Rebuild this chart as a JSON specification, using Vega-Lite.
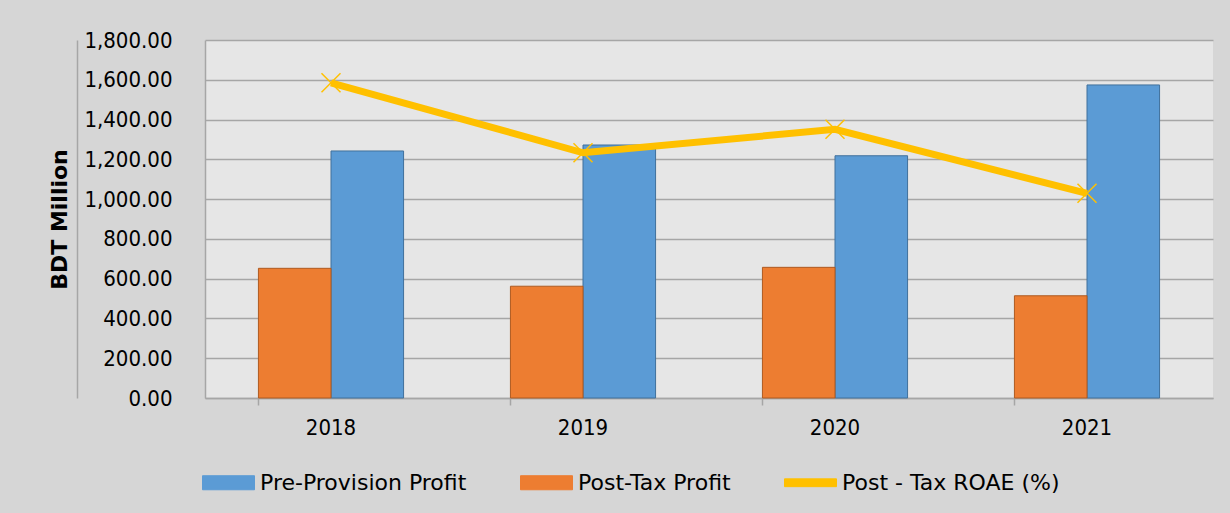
{
  "$schema": "https://vega.github.io/schema/vega-lite/v6.json",
  "width": 1008,
  "height": 358,
  "autosize": {"type": "none"},
  "padding": {"left": 205, "top": 40, "right": 17, "bottom": 115},
  "background": "#d6d6d6",
  "config": {
    "view": {"fill": "#e6e6e6", "stroke": null},
    "font": "DejaVu Sans Condensed"
  },
  "datasets": {
    "bars": [
      {"year": "2018", "series": "Pre-Provision Profit", "value": 1242},
      {"year": "2018", "series": "Post-Tax Profit", "value": 652},
      {"year": "2019", "series": "Pre-Provision Profit", "value": 1272},
      {"year": "2019", "series": "Post-Tax Profit", "value": 562},
      {"year": "2020", "series": "Pre-Provision Profit", "value": 1218},
      {"year": "2020", "series": "Post-Tax Profit", "value": 657},
      {"year": "2021", "series": "Pre-Provision Profit", "value": 1574},
      {"year": "2021", "series": "Post-Tax Profit", "value": 514}
    ],
    "roae": [
      {"year": "2018", "roae": 15.85},
      {"year": "2019", "roae": 12.33},
      {"year": "2020", "roae": 13.51},
      {"year": "2021", "roae": 10.29}
    ]
  },
  "layer": [
    {
      "data": {"name": "bars"},
      "mark": {"type": "bar", "strokeWidth": 1},
      "encoding": {
        "x": {
          "field": "year", "type": "nominal",
          "scale": {"paddingInner": 0.424, "paddingOuter": 0.212},
          "axis": {
            "title": null, "labelAngle": 0, "labelFontSize": 22, "labelColor": "black",
            "labelPadding": 12, "tickSize": 7, "tickColor": "#a6a6a6", "tickWidth": 1.5,
            "bandPosition": 0, "domainColor": "#a6a6a6", "domainWidth": 1.5, "grid": false
          }
        },
        "xOffset": {"field": "series", "sort": ["Post-Tax Profit", "Pre-Provision Profit"]},
        "y": {
          "field": "value", "type": "quantitative",
          "scale": {"domain": [0, 1800]},
          "axis": {
            "values": [0, 200, 400, 600, 800, 1000, 1200, 1400, 1600, 1800],
            "format": ",.2f", "labelFontSize": 22, "labelColor": "black", "labelPadding": 33,
            "ticks": false, "domain": true, "domainColor": "#a6a6a6", "domainWidth": 1.5,
            "grid": true, "gridColor": "#a6a6a6", "gridWidth": 1.5,
            "title": "BDT Million", "titleFont": "DejaVu Sans", "titleFontSize": 22,
            "titleFontWeight": "bold", "titleColor": "black", "titlePadding": 12
          }
        },
        "color": {
          "field": "series",
          "scale": {
            "domain": ["Pre-Provision Profit", "Post-Tax Profit", "Post - Tax ROAE (%)"],
            "range": ["#5b9bd5", "#ed7d31", "#ffc000"]
          },
          "legend": {
            "orient": "none", "legendX": -3, "legendY": 416, "direction": "horizontal",
            "title": null, "labelFont": "DejaVu Sans", "labelFontSize": 22, "labelColor": "black",
            "labelLimit": 500,
            "symbolSize": 2704, "symbolOffset": 0, "labelOffset": 5, "columnPadding": 53,
            "padding": 0,
            "encode": {
              "symbols": {
                "update": {
                  "shape": {"signal": "datum.value === 'Post - Tax ROAE (%)' ? 'M-1,-0.15H1V0.15H-1Z' : 'M-1,-0.27H1V0.27H-1Z'"},
                  "strokeWidth": {"value": 1},
                  "strokeJoin": {"value": "round"},
                  "fill": {"signal": "datum.value === 'Post - Tax ROAE (%)' ? '#ffc000' : (datum.value === 'Pre-Provision Profit' ? '#5b9bd5' : '#ed7d31')"},
                  "stroke": {"signal": "datum.value === 'Post - Tax ROAE (%)' ? '#ffc000' : (datum.value === 'Pre-Provision Profit' ? '#41719c' : '#ae5a21')"},
                  "opacity": {"value": 1}
                }
              }
            }
          }
        },
        "stroke": {
          "field": "series",
          "scale": {
            "domain": ["Pre-Provision Profit", "Post-Tax Profit"],
            "range": ["#41719c", "#ae5a21"]
          },
          "legend": null
        }
      }
    },
    {
      "data": {"name": "roae"},
      "mark": {"type": "line", "strokeWidth": 7},
      "encoding": {
        "x": {"field": "year", "type": "nominal"},
        "y": {
          "field": "roae", "type": "quantitative",
          "scale": {"domain": [0, 18]},
          "axis": {
            "orient": "left", "offset": 128, "labels": false, "ticks": false, "grid": false,
            "title": null, "domain": true, "domainColor": "#a6a6a6", "domainWidth": 1.5
          }
        },
        "color": {"datum": "Post - Tax ROAE (%)"}
      }
    },
    {
      "data": {"name": "roae"},
      "mark": {
        "type": "point", "shape": "M-1,-1L1,1M-1,1L1,-1", "size": 361,
        "filled": false, "stroke": "#ffc000", "strokeWidth": 1.5, "opacity": 1
      },
      "encoding": {
        "x": {"field": "year", "type": "nominal"},
        "y": {
          "field": "roae", "type": "quantitative",
          "scale": {"domain": [0, 18]},
          "axis": null
        }
      }
    }
  ],
  "resolve": {"scale": {"y": "independent"}}
}
